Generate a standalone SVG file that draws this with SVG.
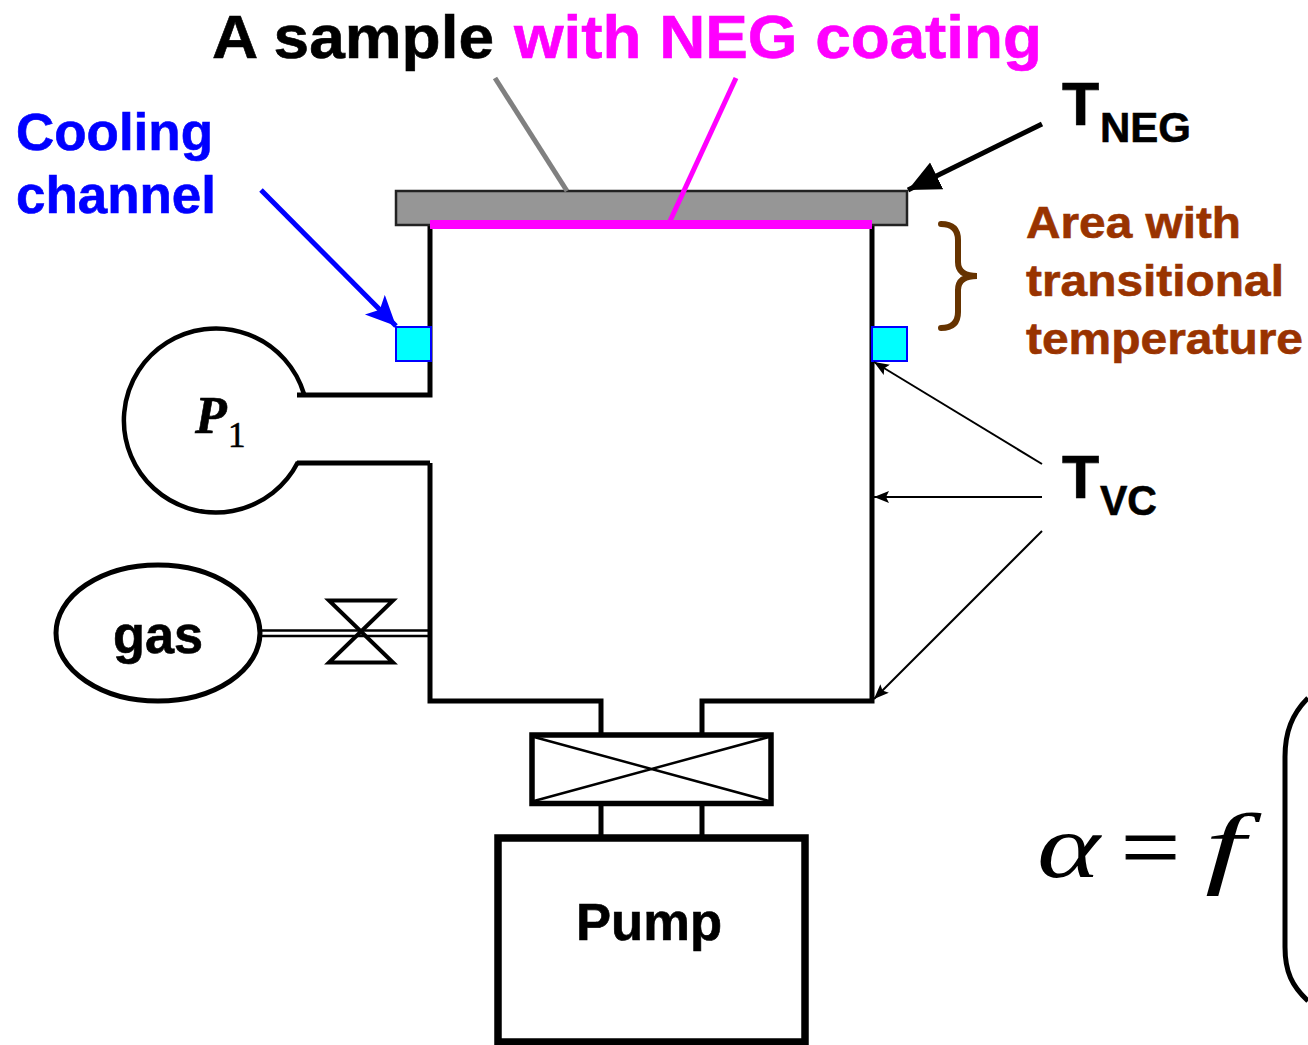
<svg xmlns="http://www.w3.org/2000/svg" width="1308" height="1045" viewBox="0 0 1308 1045">
<style>
text{font-family:"Liberation Sans",Arial,sans-serif;font-weight:bold;fill:#000;stroke:#000;stroke-width:.6}
.s{font-family:"Liberation Serif","Times New Roman",serif}
.n{font-weight:normal}
.m{fill:#f0f;stroke:#f0f}
.u{fill:#00f;stroke:#00f}
.r{fill:#993300;stroke:#993300}
.w{fill:none;stroke:#000;stroke-width:5}
.t{fill:none;stroke:#000;stroke-width:2}
.c{fill:#0ff;stroke:#00f;stroke-width:2}
</style>
<defs>
<marker id="ab" markerUnits="userSpaceOnUse" markerWidth="40" markerHeight="40" refX="32" refY="15" orient="auto"><path d="M0 0L32 15L0 30z" fill="#000"/></marker>
<marker id="as" markerUnits="userSpaceOnUse" markerWidth="20" markerHeight="20" refX="15" refY="6" orient="auto"><path d="M0 0L15 6L0 12L3 6z" fill="#000"/></marker>
<marker id="au" markerUnits="userSpaceOnUse" markerWidth="40" markerHeight="40" refX="30" refY="14" orient="auto"><path d="M0 0L30 14L0 28L7 14z" fill="#00f"/></marker>
</defs>
<rect width="1308" height="1045" fill="#fff"/>
<g id="chamber"><path class="w" d="M430 225V395H297M430 463H297M430 463V701H601V735M702 735V701H872V225"/></g>
<g id="sample"><rect x="396" y="191" width="511" height="34" fill="#969696" stroke="#222" stroke-width="2.500"/><rect x="430" y="220" width="442" height="9" fill="#f0f"/></g>
<g id="cooling-left"><rect class="c" x="396" y="327" width="35" height="34"/></g>
<g id="cooling-right"><rect class="c" x="872" y="327" width="35" height="34"/></g>
<g id="gauge"><path d="M304 394A92 92 0 1 0 298 462" fill="none" stroke="#000" stroke-width="4.500"/><text class="s" x="195" y="433" font-size="52" font-style="italic">P</text><text class="s n" x="228" y="447" font-size="35">1</text></g>
<g id="gas"><ellipse cx="158" cy="633" rx="102" ry="68" fill="#fff" stroke="#000" stroke-width="5"/><text x="113" y="653" font-size="51" textLength="90" lengthAdjust="spacingAndGlyphs">gas</text></g>
<g id="valve"><path d="M329 600.500H393L329 662.500H393z" fill="none" stroke="#000" stroke-width="4"/></g>
<g id="gate-valve"><rect x="532" y="735" width="239" height="68.500" fill="none" stroke="#000" stroke-width="5.500"/><path d="M534 737L769 801M534 801L769 737" fill="none" stroke="#000" stroke-width="2.500"/></g>
<g id="pump"><path class="w" d="M601 803V837M702 803V837"/><rect x="498" y="838" width="307" height="204" fill="#fff" stroke="#000" stroke-width="7.500"/><text x="576" y="940" font-size="51" textLength="146" lengthAdjust="spacingAndGlyphs">Pump</text></g>
<g id="connectors">
<path d="M262 630.500H428M262 636H428" fill="none" stroke="#000" stroke-width="2.500"/>
<path d="M495 78L567 191" fill="none" stroke="#808080" stroke-width="5"/>
<path d="M736 78L670 221" fill="none" stroke="#f0f" stroke-width="5"/>
<path d="M1042 124L908 190" fill="none" stroke="#000" stroke-width="5" marker-end="url(#ab)"/>
<path d="M261 190L396 326" fill="none" stroke="#00f" stroke-width="5" marker-end="url(#au)"/>
<path d="M1042 464L874 362" class="t" marker-end="url(#as)"/>
<path d="M1042 497L874 497" class="t" marker-end="url(#as)"/>
<path d="M1042 531L874 699" class="t" marker-end="url(#as)"/>
<path d="M941 224C952 224 958 229 958 240V262C958 271 964 276 977 276C964 276 958 281 958 290V312C958 323 952 328 941 328" fill="none" stroke="#663300" stroke-width="6" stroke-linecap="round"/>
</g>
<g id="labels">
<text x="212" y="58" font-size="61" textLength="282" lengthAdjust="spacingAndGlyphs">A sample</text>
<text class="m" x="514" y="58" font-size="61" textLength="528" lengthAdjust="spacingAndGlyphs">with NEG coating</text>
<text class="u" x="16" y="150" font-size="51" textLength="197" lengthAdjust="spacingAndGlyphs">Cooling</text>
<text class="u" x="16" y="213" font-size="51" textLength="200" lengthAdjust="spacingAndGlyphs">channel</text>
<text x="1062" y="125" font-size="61">T</text><text x="1100" y="142" font-size="43" textLength="91" lengthAdjust="spacingAndGlyphs">NEG</text>
<text x="1062" y="498" font-size="61">T</text><text x="1100" y="515" font-size="43" textLength="57" lengthAdjust="spacingAndGlyphs">VC</text>
<text class="r" x="1026" y="238" font-size="45" textLength="215" lengthAdjust="spacingAndGlyphs">Area with</text>
<text class="r" x="1026" y="296" font-size="45" textLength="258" lengthAdjust="spacingAndGlyphs">transitional</text>
<text class="r" x="1026" y="354" font-size="45" textLength="277" lengthAdjust="spacingAndGlyphs">temperature</text>
</g>
<g id="formula">
<text class="s n" x="1037" y="877" font-size="92" font-style="italic" textLength="63" lengthAdjust="spacingAndGlyphs" style="stroke-width:0">α</text>
<text class="s n" x="1121" y="878" font-size="92" textLength="59" lengthAdjust="spacingAndGlyphs" style="stroke-width:1">=</text>
<text class="s n" x="1205" y="877" font-size="92" font-style="italic" textLength="40" lengthAdjust="spacingAndGlyphs" style="stroke-width:0">f</text>
<path d="M1308 698C1292 714 1285 732 1285 757V947C1285 972 1292 986 1308 1001" fill="none" stroke="#000" stroke-width="5"/>
</g>
</svg>
